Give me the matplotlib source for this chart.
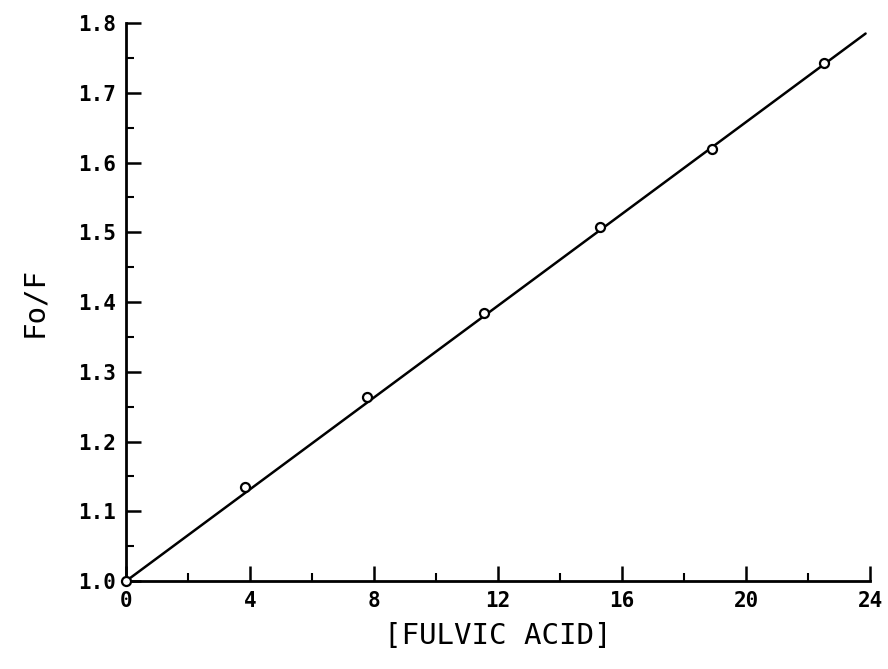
import matplotlib
matplotlib.use("Agg")
import matplotlib.pyplot as plt
from matplotlib.ticker import MultipleLocator, FormatStrFormatter

# measured points (Stern-Volmer plot)
conc = [0.0, 3.85, 7.77, 11.55, 15.3, 18.9, 22.5]
f0_over_f = [1.0, 1.135, 1.264, 1.384, 1.508, 1.619, 1.743]

# fitted line end points
fit_x = [0.0, 23.85]
fit_y = [1.0, 1.785]

FONT = "DejaVu Sans Mono"

fig = plt.figure(figsize=(8.88, 6.69), dpi=100)
ax = fig.add_axes([0.142, 0.1315, 0.838, 0.834])

ax.plot(fit_x, fit_y, color="black", lw=1.8, solid_capstyle="round", zorder=2)
ax.plot(conc, f0_over_f, ls="none", marker="o", ms=6.5, mfc="white",
        mec="black", mew=1.6, zorder=3, clip_on=False)

ax.set_xlim(0, 24)
ax.set_ylim(1.0, 1.8)
ax.xaxis.set_major_locator(MultipleLocator(4))
ax.xaxis.set_minor_locator(MultipleLocator(2))
ax.yaxis.set_major_locator(MultipleLocator(0.1))
ax.yaxis.set_minor_locator(MultipleLocator(0.05))
ax.yaxis.set_major_formatter(FormatStrFormatter("%.1f"))

for s in ("top", "right"):
    ax.spines[s].set_visible(False)
for s in ("left", "bottom"):
    ax.spines[s].set_linewidth(2.0)

ax.tick_params(which="major", direction="in", length=11, width=1.8,
               labelsize=15, pad=7)
ax.tick_params(which="minor", direction="in", length=6, width=1.5)
for lbl in ax.get_xticklabels() + ax.get_yticklabels():
    lbl.set_family(FONT)
    lbl.set_fontweight("bold")

ax.set_xlabel("[FULVIC ACID]", family=FONT, fontsize=21, labelpad=8)
ax.set_ylabel("Fo/F", family=FONT, fontsize=21, labelpad=22)

fig.savefig("out.png", dpi=100, facecolor="white")
